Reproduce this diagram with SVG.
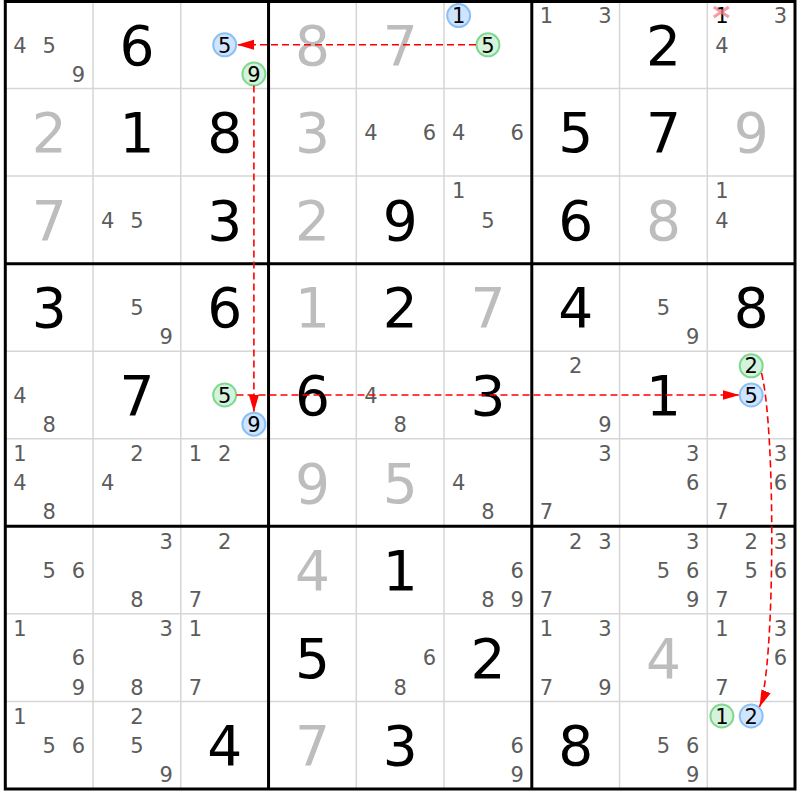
<svg xmlns="http://www.w3.org/2000/svg" width="800" height="800" viewBox="0 0 800 800">
<style>
text{font-family:"DejaVu Sans","Liberation Sans",sans-serif;text-anchor:middle}
.b{font-size:55px;fill:#000}
.g{font-size:55px;fill:#bdbdbd}
.c{font-size:21px;fill:#5c5c5c}
.k{font-size:21px;fill:#000}
.cb{fill:#cfe5ff;stroke:#8cc0f5;stroke-width:2}
.cg{fill:#d4f3dc;stroke:#80d890;stroke-width:2}
.thin{stroke:#d6d6d6;stroke-width:1.5}
.thick{stroke:#000;stroke-width:3}
.link{fill:none;stroke:#ff0000;stroke-width:1.6;stroke-dasharray:7 4}
</style>
<defs>
<marker id="ah" markerUnits="userSpaceOnUse" markerWidth="18" markerHeight="11" refX="17" refY="5" orient="auto">
<path d="M0,0 L17,5 L0,10 z" fill="#ff0000"/>
</marker>
</defs>
<rect x="0" y="0" width="800" height="800" fill="#fff"/>
<g id="grid">
<g class="thin">
<line x1="93.05" y1="1" x2="93.05" y2="789"/><line x1="180.8" y1="1" x2="180.8" y2="789"/>
<line x1="356.3" y1="1" x2="356.3" y2="789"/><line x1="444.05" y1="1" x2="444.05" y2="789"/>
<line x1="619.55" y1="1" x2="619.55" y2="789"/><line x1="707.3" y1="1" x2="707.3" y2="789"/>
<line x1="5.3" y1="88.55" x2="795" y2="88.55"/><line x1="5.3" y1="176.1" x2="795" y2="176.1"/>
<line x1="5.3" y1="351.2" x2="795" y2="351.2"/><line x1="5.3" y1="438.75" x2="795" y2="438.75"/>
<line x1="5.3" y1="613.85" x2="795" y2="613.85"/><line x1="5.3" y1="701.4" x2="795" y2="701.4"/>
</g>
<g class="thick">
<line x1="268.55" y1="1" x2="268.55" y2="789"/><line x1="531.8" y1="1" x2="531.8" y2="789"/>
<line x1="5.3" y1="263.65" x2="795" y2="263.65"/><line x1="5.3" y1="526.3" x2="795" y2="526.3"/>
<rect x="5.3" y="1.5" width="789.7" height="787.5" fill="none"/>
</g>
</g>
<g id="cells">
<!-- row 0 -->
<g id="r0c0" transform="translate(5.3,1)"><text class="c" x="14.6" y="51.5">4</text><text class="c" x="43.9" y="51.5">5</text><text class="c" x="73.1" y="80.7">9</text></g>
<g id="r0c1" transform="translate(93.05,1)"><text class="b" x="43.9" y="63.8">6</text></g>
<g id="r0c2" transform="translate(180.8,1)"><circle class="cb" cx="43.9" cy="43.8" r="11.5"/><text class="k" x="43.9" y="51.5">5</text><circle class="cg" cx="73.1" cy="73" r="11.5"/><text class="k" x="73.1" y="80.7">9</text></g>
<g id="r0c3" transform="translate(268.55,1)"><text class="g" x="43.9" y="63.8">8</text></g>
<g id="r0c4" transform="translate(356.3,1)"><text class="g" x="43.9" y="63.8">7</text></g>
<g id="r0c5" transform="translate(444.05,1)"><circle class="cb" cx="14.6" cy="14.6" r="11.5"/><text class="k" x="14.6" y="22.3">1</text><circle class="cg" cx="43.9" cy="43.8" r="11.5"/><text class="k" x="43.9" y="51.5">5</text></g>
<g id="r0c6" transform="translate(531.8,1)"><text class="c" x="14.6" y="22.3">1</text><text class="c" x="73.1" y="22.3">3</text></g>
<g id="r0c7" transform="translate(619.55,1)"><text class="b" x="43.9" y="63.8">2</text></g>
<g id="r0c8" transform="translate(707.3,1)"><text class="k" x="14.6" y="22.3" fill="#111">1</text><path d="M6.5,6 L21.5,16 M21.5,6 L6.5,16" stroke="#f27c8a" stroke-width="3.2" stroke-opacity="0.75" fill="none"/><text class="c" x="73.1" y="22.3">3</text><text class="c" x="14.6" y="51.5">4</text></g>
<!-- row 1 -->
<g id="r1c0" transform="translate(5.3,88.55)"><text class="g" x="43.9" y="63.8">2</text></g>
<g id="r1c1" transform="translate(93.05,88.55)"><text class="b" x="43.9" y="63.8">1</text></g>
<g id="r1c2" transform="translate(180.8,88.55)"><text class="b" x="43.9" y="63.8">8</text></g>
<g id="r1c3" transform="translate(268.55,88.55)"><text class="g" x="43.9" y="63.8">3</text></g>
<g id="r1c4" transform="translate(356.3,88.55)"><text class="c" x="14.6" y="51.5">4</text><text class="c" x="73.1" y="51.5">6</text></g>
<g id="r1c5" transform="translate(444.05,88.55)"><text class="c" x="14.6" y="51.5">4</text><text class="c" x="73.1" y="51.5">6</text></g>
<g id="r1c6" transform="translate(531.8,88.55)"><text class="b" x="43.9" y="63.8">5</text></g>
<g id="r1c7" transform="translate(619.55,88.55)"><text class="b" x="43.9" y="63.8">7</text></g>
<g id="r1c8" transform="translate(707.3,88.55)"><text class="g" x="43.9" y="63.8">9</text></g>
<!-- row 2 -->
<g id="r2c0" transform="translate(5.3,176.1)"><text class="g" x="43.9" y="63.8">7</text></g>
<g id="r2c1" transform="translate(93.05,176.1)"><text class="c" x="14.6" y="51.5">4</text><text class="c" x="43.9" y="51.5">5</text></g>
<g id="r2c2" transform="translate(180.8,176.1)"><text class="b" x="43.9" y="63.8">3</text></g>
<g id="r2c3" transform="translate(268.55,176.1)"><text class="g" x="43.9" y="63.8">2</text></g>
<g id="r2c4" transform="translate(356.3,176.1)"><text class="b" x="43.9" y="63.8">9</text></g>
<g id="r2c5" transform="translate(444.05,176.1)"><text class="c" x="14.6" y="22.3">1</text><text class="c" x="43.9" y="51.5">5</text></g>
<g id="r2c6" transform="translate(531.8,176.1)"><text class="b" x="43.9" y="63.8">6</text></g>
<g id="r2c7" transform="translate(619.55,176.1)"><text class="g" x="43.9" y="63.8">8</text></g>
<g id="r2c8" transform="translate(707.3,176.1)"><text class="c" x="14.6" y="22.3">1</text><text class="c" x="14.6" y="51.5">4</text></g>
<!-- row 3 -->
<g id="r3c0" transform="translate(5.3,263.65)"><text class="b" x="43.9" y="63.8">3</text></g>
<g id="r3c1" transform="translate(93.05,263.65)"><text class="c" x="43.9" y="51.5">5</text><text class="c" x="73.1" y="80.7">9</text></g>
<g id="r3c2" transform="translate(180.8,263.65)"><text class="b" x="43.9" y="63.8">6</text></g>
<g id="r3c3" transform="translate(268.55,263.65)"><text class="g" x="43.9" y="63.8">1</text></g>
<g id="r3c4" transform="translate(356.3,263.65)"><text class="b" x="43.9" y="63.8">2</text></g>
<g id="r3c5" transform="translate(444.05,263.65)"><text class="g" x="43.9" y="63.8">7</text></g>
<g id="r3c6" transform="translate(531.8,263.65)"><text class="b" x="43.9" y="63.8">4</text></g>
<g id="r3c7" transform="translate(619.55,263.65)"><text class="c" x="43.9" y="51.5">5</text><text class="c" x="73.1" y="80.7">9</text></g>
<g id="r3c8" transform="translate(707.3,263.65)"><text class="b" x="43.9" y="63.8">8</text></g>
<!-- row 4 -->
<g id="r4c0" transform="translate(5.3,351.2)"><text class="c" x="14.6" y="51.5">4</text><text class="c" x="43.9" y="80.7">8</text></g>
<g id="r4c1" transform="translate(93.05,351.2)"><text class="b" x="43.9" y="63.8">7</text></g>
<g id="r4c2" transform="translate(180.8,351.2)"><circle class="cg" cx="43.9" cy="43.8" r="11.5"/><text class="k" x="43.9" y="51.5">5</text><circle class="cb" cx="73.1" cy="73" r="11.5"/><text class="k" x="73.1" y="80.7">9</text></g>
<g id="r4c3" transform="translate(268.55,351.2)"><text class="b" x="43.9" y="63.8">6</text></g>
<g id="r4c4" transform="translate(356.3,351.2)"><text class="c" x="14.6" y="51.5">4</text><text class="c" x="43.9" y="80.7">8</text></g>
<g id="r4c5" transform="translate(444.05,351.2)"><text class="b" x="43.9" y="63.8">3</text></g>
<g id="r4c6" transform="translate(531.8,351.2)"><text class="c" x="43.9" y="22.3">2</text><text class="c" x="73.1" y="80.7">9</text></g>
<g id="r4c7" transform="translate(619.55,351.2)"><text class="b" x="43.9" y="63.8">1</text></g>
<g id="r4c8" transform="translate(707.3,351.2)"><circle class="cg" cx="43.9" cy="14.6" r="11.5"/><text class="k" x="43.9" y="22.3">2</text><circle class="cb" cx="43.9" cy="43.8" r="11.5"/><text class="k" x="43.9" y="51.5">5</text></g>
<!-- row 5 -->
<g id="r5c0" transform="translate(5.3,438.75)"><text class="c" x="14.6" y="22.3">1</text><text class="c" x="14.6" y="51.5">4</text><text class="c" x="43.9" y="80.7">8</text></g>
<g id="r5c1" transform="translate(93.05,438.75)"><text class="c" x="43.9" y="22.3">2</text><text class="c" x="14.6" y="51.5">4</text></g>
<g id="r5c2" transform="translate(180.8,438.75)"><text class="c" x="14.6" y="22.3">1</text><text class="c" x="43.9" y="22.3">2</text></g>
<g id="r5c3" transform="translate(268.55,438.75)"><text class="g" x="43.9" y="63.8">9</text></g>
<g id="r5c4" transform="translate(356.3,438.75)"><text class="g" x="43.9" y="63.8">5</text></g>
<g id="r5c5" transform="translate(444.05,438.75)"><text class="c" x="14.6" y="51.5">4</text><text class="c" x="43.9" y="80.7">8</text></g>
<g id="r5c6" transform="translate(531.8,438.75)"><text class="c" x="73.1" y="22.3">3</text><text class="c" x="14.6" y="80.7">7</text></g>
<g id="r5c7" transform="translate(619.55,438.75)"><text class="c" x="73.1" y="22.3">3</text><text class="c" x="73.1" y="51.5">6</text></g>
<g id="r5c8" transform="translate(707.3,438.75)"><text class="c" x="73.1" y="22.3">3</text><text class="c" x="73.1" y="51.5">6</text><text class="c" x="14.6" y="80.7">7</text></g>
<!-- row 6 -->
<g id="r6c0" transform="translate(5.3,526.3)"><text class="c" x="43.9" y="51.5">5</text><text class="c" x="73.1" y="51.5">6</text></g>
<g id="r6c1" transform="translate(93.05,526.3)"><text class="c" x="73.1" y="22.3">3</text><text class="c" x="43.9" y="80.7">8</text></g>
<g id="r6c2" transform="translate(180.8,526.3)"><text class="c" x="43.9" y="22.3">2</text><text class="c" x="14.6" y="80.7">7</text></g>
<g id="r6c3" transform="translate(268.55,526.3)"><text class="g" x="43.9" y="63.8">4</text></g>
<g id="r6c4" transform="translate(356.3,526.3)"><text class="b" x="43.9" y="63.8">1</text></g>
<g id="r6c5" transform="translate(444.05,526.3)"><text class="c" x="73.1" y="51.5">6</text><text class="c" x="43.9" y="80.7">8</text><text class="c" x="73.1" y="80.7">9</text></g>
<g id="r6c6" transform="translate(531.8,526.3)"><text class="c" x="43.9" y="22.3">2</text><text class="c" x="73.1" y="22.3">3</text><text class="c" x="14.6" y="80.7">7</text></g>
<g id="r6c7" transform="translate(619.55,526.3)"><text class="c" x="73.1" y="22.3">3</text><text class="c" x="43.9" y="51.5">5</text><text class="c" x="73.1" y="51.5">6</text><text class="c" x="73.1" y="80.7">9</text></g>
<g id="r6c8" transform="translate(707.3,526.3)"><text class="c" x="43.9" y="22.3">2</text><text class="c" x="73.1" y="22.3">3</text><text class="c" x="43.9" y="51.5">5</text><text class="c" x="73.1" y="51.5">6</text><text class="c" x="14.6" y="80.7">7</text></g>
<!-- row 7 -->
<g id="r7c0" transform="translate(5.3,613.85)"><text class="c" x="14.6" y="22.3">1</text><text class="c" x="73.1" y="51.5">6</text><text class="c" x="73.1" y="80.7">9</text></g>
<g id="r7c1" transform="translate(93.05,613.85)"><text class="c" x="73.1" y="22.3">3</text><text class="c" x="43.9" y="80.7">8</text></g>
<g id="r7c2" transform="translate(180.8,613.85)"><text class="c" x="14.6" y="22.3">1</text><text class="c" x="14.6" y="80.7">7</text></g>
<g id="r7c3" transform="translate(268.55,613.85)"><text class="b" x="43.9" y="63.8">5</text></g>
<g id="r7c4" transform="translate(356.3,613.85)"><text class="c" x="73.1" y="51.5">6</text><text class="c" x="43.9" y="80.7">8</text></g>
<g id="r7c5" transform="translate(444.05,613.85)"><text class="b" x="43.9" y="63.8">2</text></g>
<g id="r7c6" transform="translate(531.8,613.85)"><text class="c" x="14.6" y="22.3">1</text><text class="c" x="73.1" y="22.3">3</text><text class="c" x="14.6" y="80.7">7</text><text class="c" x="73.1" y="80.7">9</text></g>
<g id="r7c7" transform="translate(619.55,613.85)"><text class="g" x="43.9" y="63.8">4</text></g>
<g id="r7c8" transform="translate(707.3,613.85)"><text class="c" x="14.6" y="22.3">1</text><text class="c" x="73.1" y="22.3">3</text><text class="c" x="73.1" y="51.5">6</text><text class="c" x="14.6" y="80.7">7</text></g>
<!-- row 8 -->
<g id="r8c0" transform="translate(5.3,701.4)"><text class="c" x="14.6" y="22.3">1</text><text class="c" x="43.9" y="51.5">5</text><text class="c" x="73.1" y="51.5">6</text></g>
<g id="r8c1" transform="translate(93.05,701.4)"><text class="c" x="43.9" y="22.3">2</text><text class="c" x="43.9" y="51.5">5</text><text class="c" x="73.1" y="80.7">9</text></g>
<g id="r8c2" transform="translate(180.8,701.4)"><text class="b" x="43.9" y="63.8">4</text></g>
<g id="r8c3" transform="translate(268.55,701.4)"><text class="g" x="43.9" y="63.8">7</text></g>
<g id="r8c4" transform="translate(356.3,701.4)"><text class="b" x="43.9" y="63.8">3</text></g>
<g id="r8c5" transform="translate(444.05,701.4)"><text class="c" x="73.1" y="51.5">6</text><text class="c" x="73.1" y="80.7">9</text></g>
<g id="r8c6" transform="translate(531.8,701.4)"><text class="b" x="43.9" y="63.8">8</text></g>
<g id="r8c7" transform="translate(619.55,701.4)"><text class="c" x="43.9" y="51.5">5</text><text class="c" x="73.1" y="51.5">6</text><text class="c" x="73.1" y="80.7">9</text></g>
<g id="r8c8" transform="translate(707.3,701.4)"><circle class="cg" cx="14.6" cy="14.6" r="11.5"/><text class="k" x="14.6" y="22.3">1</text><circle class="cb" cx="43.9" cy="14.6" r="11.5"/><text class="k" x="43.9" y="22.3">2</text></g>
</g>
<g id="connectors">
<line class="link" x1="476" y1="44.8" x2="237" y2="44.8" marker-end="url(#ah)"/>
<line class="link" x1="253.9" y1="85.5" x2="253.9" y2="412" marker-end="url(#ah)"/>
<line class="link" x1="236.5" y1="395" x2="739.5" y2="395" marker-end="url(#ah)"/>
<path class="link" d="M761.5,373 C776,430 775,670 759.5,707" marker-end="url(#ah)"/>
</g>
</svg>
